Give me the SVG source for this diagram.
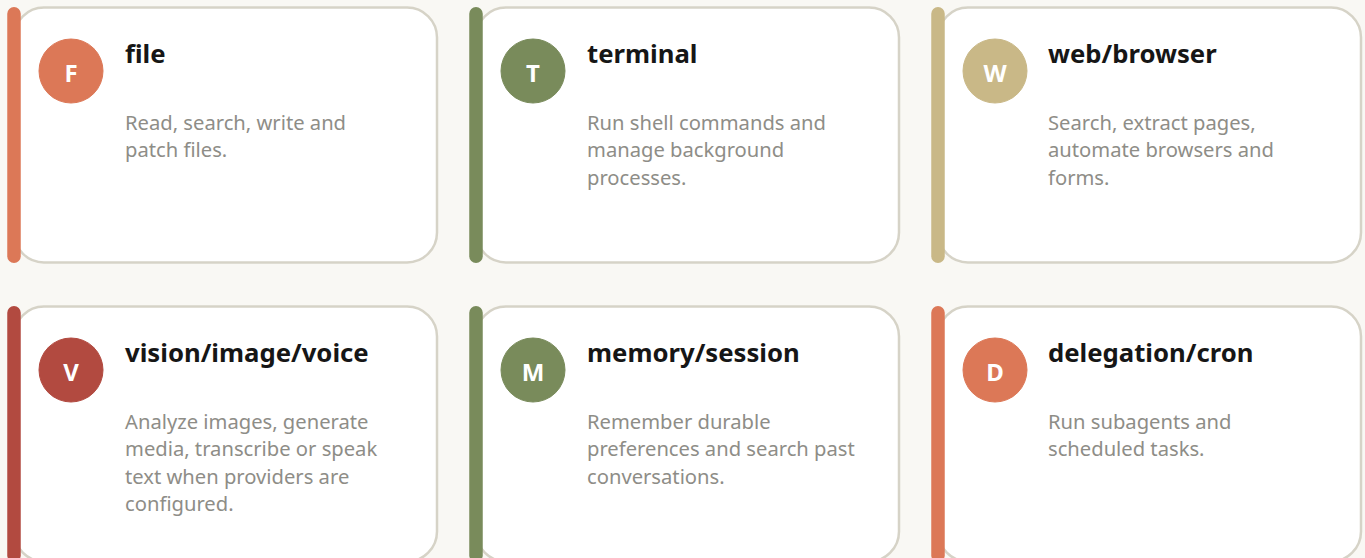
<svg xmlns="http://www.w3.org/2000/svg" width="1365" height="558" viewBox="0 0 1365 558">
  <defs>
    <style>
      .bg { fill: #f9f8f4; }
      .card { fill: #ffffff; stroke: #d6d3c7; stroke-width: 2.5; }
      .bar { stroke-width: 13.5; stroke-linecap: round; fill: none; }
      .title { font-family: "Noto Sans", "Open Sans", sans-serif; font-weight: 700; font-size: 25.7px; fill: #161616; }
      .desc { font-family: "Noto Sans", "Open Sans", sans-serif; font-size: 20.2px; fill: #8e8d87; }
      .badge-text { font-family: "Noto Sans", "Open Sans", sans-serif; font-weight: 700; font-size: 24px; fill: #ffffff; text-anchor: middle; }
      .orange { fill: #dc7857; stroke: #dc7857; }
      .green { fill: #798b5b; stroke: #798b5b; }
      .tan { fill: #c9b887; stroke: #c9b887; }
      .red { fill: #b24a40; stroke: #b24a40; }
    </style>
  </defs>

  <rect class="bg" x="0" y="0" width="1365" height="558"/>

  <!-- Row 1 -->
  <g id="node-file">
    <rect class="card" x="14" y="7.5" width="423" height="255" rx="30"/>
    <line class="bar orange" x1="14" y1="13.75" x2="14" y2="256.25"/>
    <circle class="orange" cx="71" cy="71" r="32" stroke="none"/>
    <text class="badge-text" x="71" y="81.5">F</text>
    <text class="title" x="125" y="63">file</text>
    <text class="desc" x="125" y="129.5">Read, search, write and</text>
    <text class="desc" x="125" y="157">patch files.</text>
  </g>

  <g id="node-terminal">
    <rect class="card" x="476" y="7.5" width="423" height="255" rx="30"/>
    <line class="bar green" x1="476" y1="13.75" x2="476" y2="256.25"/>
    <circle class="green" cx="533" cy="71" r="32" stroke="none"/>
    <text class="badge-text" x="533" y="81.5">T</text>
    <text class="title" x="587" y="63">terminal</text>
    <text class="desc" x="587" y="129.5">Run shell commands and</text>
    <text class="desc" x="587" y="157">manage background</text>
    <text class="desc" x="587" y="184.5">processes.</text>
  </g>

  <g id="node-web">
    <rect class="card" x="938" y="7.5" width="423" height="255" rx="30"/>
    <line class="bar tan" x1="938" y1="13.75" x2="938" y2="256.25"/>
    <circle class="tan" cx="995" cy="71" r="32" stroke="none"/>
    <text class="badge-text" x="995" y="81.5">W</text>
    <text class="title" x="1048" y="63">web/browser</text>
    <text class="desc" x="1048" y="129.5">Search, extract pages,</text>
    <text class="desc" x="1048" y="157">automate browsers and</text>
    <text class="desc" x="1048" y="184.5">forms.</text>
  </g>

  <!-- Row 2 -->
  <g id="node-vision">
    <rect class="card" x="14" y="306.5" width="423" height="255" rx="30"/>
    <line class="bar red" x1="14" y1="312.75" x2="14" y2="555.25"/>
    <circle class="red" cx="71" cy="370" r="32" stroke="none"/>
    <text class="badge-text" x="71" y="380.5">V</text>
    <text class="title" x="125" y="362">vision/image/voice</text>
    <text class="desc" x="125" y="428.5">Analyze images, generate</text>
    <text class="desc" x="125" y="456">media, transcribe or speak</text>
    <text class="desc" x="125" y="483.5">text when providers are</text>
    <text class="desc" x="125" y="511">configured.</text>
  </g>

  <g id="node-memory">
    <rect class="card" x="476" y="306.5" width="423" height="255" rx="30"/>
    <line class="bar green" x1="476" y1="312.75" x2="476" y2="555.25"/>
    <circle class="green" cx="533" cy="370" r="32" stroke="none"/>
    <text class="badge-text" x="533" y="380.5">M</text>
    <text class="title" x="587" y="362">memory/session</text>
    <text class="desc" x="587" y="428.5">Remember durable</text>
    <text class="desc" x="587" y="456">preferences and search past</text>
    <text class="desc" x="587" y="483.5">conversations.</text>
  </g>

  <g id="node-delegation">
    <rect class="card" x="938" y="306.5" width="423" height="255" rx="30"/>
    <line class="bar orange" x1="938" y1="312.75" x2="938" y2="555.25"/>
    <circle class="orange" cx="995" cy="370" r="32" stroke="none"/>
    <text class="badge-text" x="995" y="380.5">D</text>
    <text class="title" x="1048" y="362">delegation/cron</text>
    <text class="desc" x="1048" y="428.5">Run subagents and</text>
    <text class="desc" x="1048" y="456">scheduled tasks.</text>
  </g>

  <g id="connectors"/>
</svg>
